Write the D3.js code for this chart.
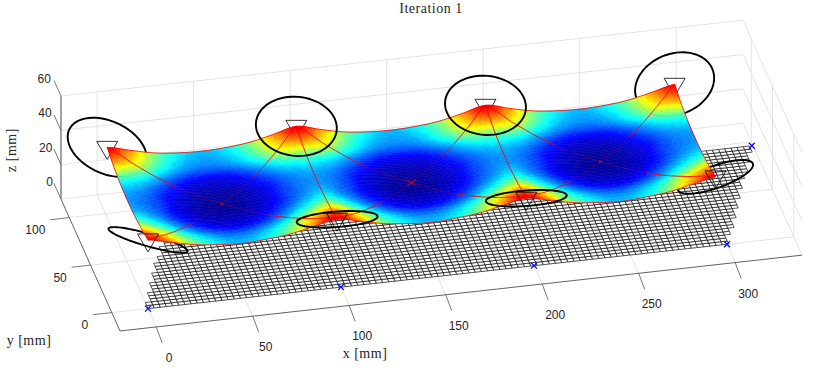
<!DOCTYPE html>
<html>
<head>
<meta charset="utf-8">
<style>
  html, body { margin: 0; padding: 0; background: #fff; }
  svg { display: block; }
  .tick { font: 12px "Liberation Sans", sans-serif; fill: #262626; }
  .label { font: 14px "Liberation Serif", serif; fill: #262626; letter-spacing: 0.5px; }
</style>
<script src="https://cdn.jsdelivr.net/npm/d3@7"></script>
</head>
<body>
<svg id="chart" width="830" height="370"></svg>
<script>
// axis limits and ticks (mm)
var xLim = [-18.75, 334.6];
var yLim = [-19.3, 119.6];
var zLim = [0, 60];
var xTicks = [0, 50, 100, 150, 200, 250, 300];
var yTicks = [0, 50, 100];
var zTicks = [0, 20, 40, 60];

// membrane, rows are y, columns are x
var surfaceX = [0, 12.25, 24.5, 36.75, 49, 61.25, 73.5, 85.75, 98, 110.25, 122.5, 134.75, 147, 159.25, 171.5, 183.75, 196, 208.25, 220.5, 232.75, 245, 257.25, 269.5, 281.75, 294];
var surfaceY = [0, 12, 24, 36, 48, 60, 72, 84, 96];
// height in mm
var surfaceZ = [
  [40.0, 37.1, 34.2, 32.7, 31.8, 32.7, 34.2, 37.1, 39.8, 37.1, 34.2, 32.7, 31.8, 32.7, 34.2, 37.1, 39.8, 37.1, 34.2, 32.7, 31.8, 32.7, 34.2, 37.1, 40.0],
  [38.3, 35.1, 32.2, 30.8, 30.0, 30.8, 32.2, 35.1, 38.3, 35.1, 32.2, 30.8, 30.0, 30.8, 32.2, 35.1, 38.3, 35.1, 32.2, 30.8, 30.0, 30.8, 32.2, 35.1, 38.3],
  [37.2, 34.0, 31.1, 29.6, 29.0, 29.6, 31.1, 34.0, 37.2, 34.0, 31.1, 29.6, 29.0, 29.6, 31.1, 34.0, 37.2, 34.0, 31.1, 29.6, 29.0, 29.6, 31.1, 34.0, 37.2],
  [36.4, 33.3, 30.4, 29.0, 28.4, 29.0, 30.4, 33.3, 36.4, 33.3, 30.4, 29.0, 28.4, 29.0, 30.4, 33.3, 36.4, 33.3, 30.4, 29.0, 28.4, 29.0, 30.4, 33.3, 36.4],
  [36.2, 33.1, 30.4, 29.0, 28.4, 29.0, 30.4, 33.1, 36.2, 33.1, 30.4, 29.0, 28.4, 29.0, 30.4, 33.1, 36.2, 33.1, 30.4, 29.0, 28.4, 29.0, 30.4, 33.1, 36.2],
  [36.4, 33.3, 30.4, 29.0, 28.4, 29.0, 30.4, 33.3, 36.4, 33.3, 30.4, 29.0, 28.4, 29.0, 30.4, 33.3, 36.4, 33.3, 30.4, 29.0, 28.4, 29.0, 30.4, 33.3, 36.4],
  [37.2, 34.0, 31.1, 29.6, 29.0, 29.6, 31.1, 34.0, 37.2, 34.0, 31.1, 29.6, 29.0, 29.6, 31.1, 34.0, 37.2, 34.0, 31.1, 29.6, 29.0, 29.6, 31.1, 34.0, 37.2],
  [38.6, 35.4, 32.4, 30.9, 30.2, 30.9, 32.4, 35.4, 38.6, 35.4, 32.4, 30.9, 30.2, 30.9, 32.4, 35.4, 38.6, 35.4, 32.4, 30.9, 30.2, 30.9, 32.4, 35.4, 38.6],
  [40.8, 37.5, 34.5, 33.0, 32.5, 33.0, 34.5, 37.5, 40.8, 37.5, 34.5, 33.0, 32.5, 33.0, 34.5, 37.5, 40.8, 37.5, 34.5, 33.0, 32.5, 33.0, 34.5, 37.5, 40.8]
];
// position on the jet colour bar, it does not follow the height
var surfaceC = [
  [0.90, 0.72, 0.50, 0.37, 0.31, 0.37, 0.50, 0.72, 0.90, 0.72, 0.50, 0.37, 0.31, 0.37, 0.50, 0.72, 0.90, 0.72, 0.50, 0.37, 0.31, 0.37, 0.50, 0.72, 0.90],
  [0.72, 0.60, 0.42, 0.29, 0.25, 0.29, 0.42, 0.60, 0.72, 0.60, 0.42, 0.29, 0.25, 0.29, 0.42, 0.60, 0.72, 0.60, 0.42, 0.29, 0.25, 0.29, 0.42, 0.60, 0.72],
  [0.47, 0.38, 0.24, 0.14, 0.11, 0.14, 0.24, 0.38, 0.47, 0.38, 0.24, 0.14, 0.11, 0.14, 0.24, 0.38, 0.47, 0.38, 0.24, 0.14, 0.11, 0.14, 0.24, 0.38, 0.47],
  [0.32, 0.25, 0.14, 0.07, 0.05, 0.07, 0.14, 0.25, 0.32, 0.25, 0.14, 0.07, 0.05, 0.07, 0.14, 0.25, 0.32, 0.25, 0.14, 0.07, 0.05, 0.07, 0.14, 0.25, 0.32],
  [0.27, 0.22, 0.11, 0.05, 0.03, 0.05, 0.11, 0.22, 0.27, 0.22, 0.11, 0.05, 0.03, 0.05, 0.11, 0.22, 0.27, 0.22, 0.11, 0.05, 0.03, 0.05, 0.11, 0.22, 0.27],
  [0.32, 0.25, 0.14, 0.07, 0.05, 0.07, 0.14, 0.25, 0.32, 0.25, 0.14, 0.07, 0.05, 0.07, 0.14, 0.25, 0.32, 0.25, 0.14, 0.07, 0.05, 0.07, 0.14, 0.25, 0.32],
  [0.47, 0.38, 0.24, 0.14, 0.11, 0.14, 0.24, 0.38, 0.47, 0.38, 0.24, 0.14, 0.11, 0.14, 0.24, 0.38, 0.47, 0.38, 0.24, 0.14, 0.11, 0.14, 0.24, 0.38, 0.47],
  [0.72, 0.60, 0.42, 0.29, 0.25, 0.29, 0.42, 0.60, 0.72, 0.60, 0.42, 0.29, 0.25, 0.29, 0.42, 0.60, 0.72, 0.60, 0.42, 0.29, 0.25, 0.29, 0.42, 0.60, 0.72],
  [0.90, 0.72, 0.50, 0.37, 0.31, 0.37, 0.50, 0.72, 0.90, 0.72, 0.50, 0.37, 0.31, 0.37, 0.50, 0.72, 0.90, 0.72, 0.50, 0.37, 0.31, 0.37, 0.50, 0.72, 0.90]
];

// supports (triangles + rings), rear row first
var supportX = [0, 98, 196, 294, 0, 98, 196, 294];
var supportY = [96, 96, 96, 96, 0, 0, 0, 0];
var supportZ = [40.8, 40.8, 40.8, 40.8, 40, 39.8, 39.8, 40];
// ring plane: half axes in mm, x tilt and y/z of the second axis
var ringRadius = [20, 20.5, 20.5, 20, 20, 20.5, 20.5, 19];
var ringTiltZ = [-5, 0, 0, 5, -8, 0, 0, 6];
var ringVY = [-20, -20, -20, -20, 20, 20, 20, 20];
var ringVZ = [-6, -6, -6, -6, -6, -7, -7, -6];
var ringsBehind = [0, 3, 4, 7];
var trianglesBehind = [0, 1, 2, 3];

// low points between the supports, the cables run from here
var centerX = [49, 147, 245];
var centerY = [48, 48, 48];
var centerMark = [1.5, 4, 1.5];
var cableSolid = 0.6;
// cables straight across the surface between a rear and a front support
var ridgeX = [98, 196];

// floor mesh corners (blue crosses)
var markerX = [0, 100, 200, 300, 34, 134, 234, 334];
var markerY = [0, 0, 0, 0, 96, 96, 96, 96];
var meshStep = 3.2;

// projection, the view is orthographic so each axis is a straight screen vector
var originX = 148, originY = 308.6;
var xToPx = d3.scaleLinear().domain([0, 300]).range([0, 579]);
var xToPy = d3.scaleLinear().domain([0, 300]).range([0, -64.35]);
var yToPx = d3.scaleLinear().domain([0, 100]).range([0, -42.5]);
var yToPy = d3.scaleLinear().domain([0, 100]).range([0, -95]);
var zToPy = d3.scaleLinear().domain([0, 60]).range([0, -103]);

function proj(x, y, z) {
  return [originX + xToPx(x) + yToPx(y), originY + xToPy(x) + yToPy(y) + zToPy(z)];
}

function jet(t) {
  t = Math.floor(Math.max(0, Math.min(0.9999, t)) * 64) / 63;
  var r = Math.min(1, Math.max(0, Math.min(4 * t - 1.5, -4 * t + 4.5)));
  var g = Math.min(1, Math.max(0, Math.min(4 * t - 0.5, -4 * t + 3.5)));
  var b = Math.min(1, Math.max(0, Math.min(4 * t + 0.5, -4 * t + 2.5)));
  return d3.rgb(r * 255, g * 255, b * 255).formatHex();
}

// smooth reading of a table so the shading has no facets
function cr(a, b, c, d, t) {
  return 0.5 * (2 * b + (c - a) * t + (2 * a - 5 * b + 4 * c - d) * t * t + (3 * b - 3 * c + d - a) * t * t * t);
}
function tableAt(table, x, y) {
  var fx = x / 12.25, fy = y / 12;
  var ix = Math.min(surfaceX.length - 2, Math.floor(fx)), iy = Math.min(surfaceY.length - 2, Math.floor(fy));
  var tx = fx - ix, ty = fy - iy, vals = [];
  for (var j = iy - 1; j <= iy + 2; j++) {
    var row = table[Math.max(0, Math.min(surfaceY.length - 1, j))];
    var at = function(i) { return row[Math.max(0, Math.min(surfaceX.length - 1, i))]; };
    vals.push(cr(at(ix - 1), at(ix), at(ix + 1), at(ix + 2), tx));
  }
  return cr(vals[0], vals[1], vals[2], vals[3], ty);
}
function surfaceAt(x, y) { return tableAt(surfaceZ, x, y); }

var svg = d3.select("#chart");
var line = d3.line();

function seg(g, a, b, cls) {
  g.append("line").attr("x1", a[0]).attr("y1", a[1]).attr("x2", b[0]).attr("y2", b[1])
    .attr("stroke", cls.color).attr("stroke-width", cls.width);
}

// walls and floor grid
var gridStyle = {color: "#e3e3e3", width: 1};
var grid = svg.append("g");
xTicks.forEach(function(x) {
  seg(grid, proj(x, yLim[0], 0), proj(x, yLim[1], 0), gridStyle);
  seg(grid, proj(x, yLim[1], 0), proj(x, yLim[1], zLim[1]), gridStyle);
});
yTicks.forEach(function(y) {
  seg(grid, proj(xLim[0], y, 0), proj(xLim[1], y, 0), gridStyle);
  seg(grid, proj(xLim[1], y, 0), proj(xLim[1], y, zLim[1]), gridStyle);
});
zTicks.forEach(function(z) {
  seg(grid, proj(xLim[0], yLim[1], z), proj(xLim[1], yLim[1], z), gridStyle);
  seg(grid, proj(xLim[1], yLim[1], z), proj(xLim[1], yLim[0], z), gridStyle);
});

// axes
var axisStyle = {color: "#3a3a3a", width: 0.8};
var tickStyle = {color: "#555", width: 0.8};
var axes = svg.append("g");
seg(axes, proj(xLim[0], yLim[0], 0), proj(xLim[1], yLim[0], 0), axisStyle);
seg(axes, proj(xLim[0], yLim[0], 0), proj(xLim[0], yLim[1], 0), axisStyle);
seg(axes, proj(xLim[0], yLim[1], 0), proj(xLim[0], yLim[1], zLim[1]), {color: "#8c8c8c", width: 1.6});

xTicks.forEach(function(x) {
  var p = proj(x, yLim[0], 0);
  seg(axes, p, [p[0] + 6, p[1] + 16], tickStyle);
  axes.append("text").attr("class", "tick").attr("text-anchor", "middle")
    .attr("x", p[0] + 13).attr("y", p[1] + 35).text(x);
});
yTicks.forEach(function(y) {
  var p = proj(xLim[0], y, 0);
  seg(axes, p, [p[0] - 19, p[1] + 2.1], tickStyle);
  axes.append("text").attr("class", "tick").attr("text-anchor", "middle")
    .attr("x", p[0] - 27 - y * 0.07).attr("y", p[1] + 16.5).text(y);
});
zTicks.forEach(function(z) {
  var p = proj(xLim[0], yLim[1], z);
  seg(axes, p, [p[0] - 7, p[1] - 15.5], tickStyle);
  axes.append("text").attr("class", "tick").attr("text-anchor", "end")
    .attr("x", p[0] - 10 + (60 - z) / 30).attr("y", p[1] - 13).text(z);
});

svg.append("text").attr("class", "label").attr("text-anchor", "middle").attr("x", 431).attr("y", 13).text("Iteration 1");
svg.append("text").attr("class", "label").attr("text-anchor", "middle").attr("x", 365).attr("y", 358).text("x [mm]");
svg.append("text").attr("class", "label").attr("text-anchor", "middle").attr("x", 29).attr("y", 345).text("y [mm]");
svg.append("text").attr("class", "label").attr("text-anchor", "middle")
  .attr("transform", "translate(16,150) rotate(-90)").text("z [mm]");

// floor mesh, sheared so the sides come out stepped
var mesh = svg.append("g").attr("fill", "#fff").attr("stroke", "#000").attr("stroke-width", 0.65);
var shear = 34 / 96;
d3.range(0, 31).forEach(function(j) {
  var y = j * meshStep;
  if (y + meshStep > 96.1) return;
  d3.range(0, 120).forEach(function(i) {
    var x = i * meshStep;
    var lo = (y + meshStep) * shear, hi = 300 + y * shear;
    if (x < lo - meshStep * 0.5 - 1.6 || x + meshStep > hi + 1.6) return;
    mesh.append("path").attr("d", line([proj(x, y, 0), proj(x + meshStep, y, 0), proj(x + meshStep, y + meshStep, 0), proj(x, y + meshStep, 0)]) + "Z");
  });
});

// blue crosses on the floor
var markers = svg.append("g").attr("stroke", "#0000ff").attr("stroke-width", 1.2);
markerX.forEach(function(x, i) {
  var p = proj(x, markerY[i], 0);
  markers.append("path").attr("d", "M" + (p[0] - 3) + "," + (p[1] - 3) + "L" + (p[0] + 3) + "," + (p[1] + 3) + "M" + (p[0] - 3) + "," + (p[1] + 3) + "L" + (p[0] + 3) + "," + (p[1] - 3));
});

function drawRing(g, i) {
  var pts = d3.range(0, 73).map(function(k) {
    var a = k / 72 * 2 * Math.PI, c = Math.cos(a), s = Math.sin(a);
    return proj(supportX[i] + ringRadius[i] * c, supportY[i] + ringVY[i] * s, supportZ[i] + ringTiltZ[i] * c + ringVZ[i] * s);
  });
  g.append("path").attr("d", line(pts) + "Z").attr("fill", "none").attr("stroke", "#000").attr("stroke-width", 1.9);
}
function drawTriangle(g, i) {
  var p = proj(supportX[i], supportY[i], supportZ[i]);
  g.append("path").attr("d", line([[p[0] - 10.5, p[1] - 6], [p[0] + 10.5, p[1] - 6], [p[0], p[1] + 12]]) + "Z")
    .attr("fill", "none").attr("stroke", "#000").attr("stroke-width", 0.8);
}

var behind = svg.append("g");
ringsBehind.forEach(function(i) { drawRing(behind, i); });
trianglesBehind.forEach(function(i) { drawTriangle(behind, i); });

// membrane surface, painted rear to front
var surf = svg.append("g").attr("stroke-width", 0.5);
var nx = 192, ny = 64, dx = 294 / nx, dy = 96 / ny, nodes = [];
for (var b = 0; b <= ny; b++) {
  var r = [];
  for (var a = 0; a <= nx; a++) r.push(surfaceAt(a * dx, b * dy));
  nodes.push(r);
}
for (var cy = ny - 1; cy >= 0; cy--) {
  for (var cx = 0; cx < nx; cx++) {
    var x0 = cx * dx, y0 = cy * dy;
    var col = jet(tableAt(surfaceC, x0 + dx / 2, y0 + dy / 2));
    surf.append("path")
      .attr("d", line([proj(x0, y0, nodes[cy][cx]), proj(x0 + dx, y0, nodes[cy][cx + 1]), proj(x0 + dx, y0 + dy, nodes[cy + 1][cx + 1]), proj(x0, y0 + dy, nodes[cy + 1][cx])]) + "Z")
      .attr("fill", col).attr("stroke", col);
  }
}

// red outline along the surface border
var edge = [];
d3.range(0, 295, 2).forEach(function(x) { edge.push(proj(x, 0, surfaceAt(x, 0))); });
d3.range(0, 97, 2).forEach(function(y) { edge.push(proj(294, y, surfaceAt(294, y))); });
d3.range(294, -1, -2).forEach(function(x) { edge.push(proj(x, 96, surfaceAt(x, 96))); });
d3.range(96, -1, -2).forEach(function(y) { edge.push(proj(0, y, surfaceAt(0, y))); });
svg.append("path").attr("d", line(edge) + "Z").attr("fill", "none").attr("stroke", "#ff0000").attr("stroke-width", 0.8);

// cables from each low point out to its four supports, they sink into the surface near the low point
var cables = svg.append("g").attr("fill", "none").attr("stroke", "#ff0000").attr("stroke-width", 0.9);
function cablePts(sx, sy, ex, ey, t0, t1) {
  return d3.range(0, 31).map(function(k) {
    var t = t0 + (t1 - t0) * k / 30, px = sx + (ex - sx) * t, py = sy + (ey - sy) * t;
    return proj(px, py, surfaceAt(px, py));
  });
}
centerX.forEach(function(cxv, c) {
  var cyv = centerY[c];
  supportX.forEach(function(sx, i) {
    if (Math.abs(sx - cxv) > 50) return;
    var sy = supportY[i];
    cables.append("path").attr("d", line(cablePts(sx, sy, cxv, cyv, 0, cableSolid)));
    cables.append("path").attr("d", line(cablePts(sx, sy, cxv, cyv, cableSolid, 1))).attr("stroke-opacity", 0.25);
  });
  var p = proj(cxv, cyv, surfaceAt(cxv, cyv)), m = centerMark[c];
  cables.append("path").attr("d", "M" + (p[0] - m) + "," + (p[1] - m * 0.7) + "L" + (p[0] + m) + "," + (p[1] + m * 0.7) + "M" + (p[0] - m) + "," + (p[1] + m * 0.7) + "L" + (p[0] + m) + "," + (p[1] - m * 0.7));
});
ridgeX.forEach(function(x) {
  cables.append("path").attr("d", line(cablePts(x, 96, x, 0, 0, 1)));
});

// everything that sits in front of the surface
var front = svg.append("g");
supportX.forEach(function(sx, i) {
  if (ringsBehind.indexOf(i) < 0) drawRing(front, i);
});
supportX.forEach(function(sx, i) {
  if (trianglesBehind.indexOf(i) < 0) drawTriangle(front, i);
});
</script>
</body>
</html>
